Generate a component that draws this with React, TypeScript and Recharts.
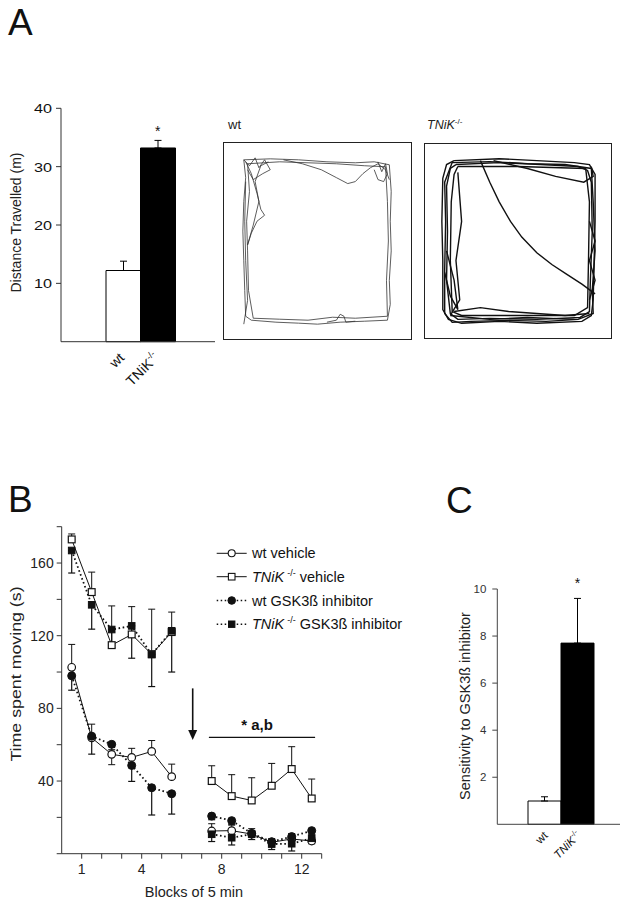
import React from 'react';
import {
  BarChart, Bar, Cell, XAxis, YAxis, ErrorBar, LineChart, Line,
  ReferenceLine, ReferenceDot,
} from 'recharts';

const FONT = '"Liberation Sans", Arial, sans-serif';
const INK = '#111';
const AXIS = '#333';

// ---------- Panel A: distance travelled ----------
const aCategories = ['wt', 'TNiK'];
const aDistance = [12.2, 33.2];
const aDistanceErr = [1.6, 1.3];
const aFills = ['#ffffff', '#000000'];
const aTicks = [10, 20, 30, 40];

// Open-field track traces (box coordinates 0-100, y measured from top)
const wtTraces: number[][][] = [
  [[11,9],[25,8.5],[40,9],[55,10],[70,10.5],[80,10],[88,11.5],[89,25],[88.5,40],[89,55],[88,70],[88.5,82],[87,90],[75,90.5],[62,91],[50,92],[40,91.5],[28,91],[15,90],[12,88],[11.5,75],[11,60],[10.5,45],[11,30],[12,18],[11,9]],
  [[13,11],[30,10],[45,10.5],[60,11],[75,12],[86,12.5],[87,30],[87.5,50],[86.5,70],[87,88],[70,89],[58,88.5],[45,90],[30,89.5],[16,89],[13.5,75],[13,55],[12.5,40],[14,25],[13,11]],
  [[32,9],[42,11],[52,14],[60,18],[66,21],[70,20],[74,16],[78,13],[82,11],[86,14],[88,19]],
  [[12,10],[15,16],[18,26],[20,34],[22,37],[18,40],[15,46],[13,52],[16,42],[19,30],[17,20],[20,12],[24,10]],
  [[11,9],[14,12],[17,8],[19,13],[22,9],[25,14],[21,16],[16,19],[13,14]],
  [[55,91],[60,90],[62,87],[64,88],[65,91],[70,90.5]],
  [[82,10],[84,15],[86,11],[87,16],[85,20],[82,19],[80,14]],
  [[12,20],[11.5,40],[12,60],[13,80],[11,92]],
];
const tnikTraces: number[][][] = [
  [[16,9],[40,8],[60,9],[80,10],[88,11],[91,16],[91,40],[90.5,60],[90,80],[89,88],[84,91],[60,92],[40,91],[20,92],[13,90],[10,85],[10,60],[9.5,40],[10,18],[12,11],[16,9]],
  [[17,11],[40,10],[62,11],[82,12],[87,14],[89,20],[89.5,45],[88.5,70],[88,86],[83,89],[60,90],[35,89.5],[18,90],[14,87],[12,70],[12.5,45],[12,22],[14,13],[17,11]],
  [[15,10],[35,9.5],[55,10.5],[75,11],[89,13],[90,30],[91,55],[89.5,75],[90,87],[82,90],[65,91],[45,90.5],[25,91],[15,91.5],[11,87],[11,65],[11.5,40],[11,20],[15,10]],
  [[18,12],[50,12],[86,13],[88,30],[87.5,60],[87,84],[80,88],[50,88],[20,88],[15,86],[14,60],[14.5,30],[16,16],[18,12]],
  [[30,9],[35,20],[40,30],[46,40],[52,48],[60,56],[68,62],[76,67],[84,72],[91,77]],
  [[37,9],[55,13],[70,17],[85,20],[90,17],[89,12]],
  [[18,15],[20,40],[17,60],[19,80],[14,88]],
  [[12,55],[16,70],[18,85],[14,78],[11,66]],
  [[16,86],[30,84],[45,86],[60,87],[75,88],[88,87]],
  [[14,88],[35,90],[55,89],[80,90]],
  [[88,40],[91,50],[88,60],[91,70],[88,80]],
];

// ---------- Panel B: time spent moving ----------
const bBlocks = [0.5, 1.5, 2.5, 3.5, 4.5, 5.5, 6.5, 7.5, 8.5, 9.5, 10.5, 11.5, 12.5];
const wtVehicle = [102.6, 63.8, 54.7, 53, 56.3, 42.4, null, 12.5, 12.7, 10.8, 6.3, 8.1, 7];
const tnikVehicle = [173, 144, 114.8, 120.7, 109.8, 122, null, 40, 31.7, 29.3, 37.4, 46.6, 30.4];
const wtGsk = [97.9, 64.7, 60.2, 48.6, 36.3, 33, null, 20.7, 18.2, 11.2, 6.6, 9.4, 12.7];
const tnikGsk = [166.9, 137, 123.4, 125.4, 109.7, 122.7, null, 10.7, 8.8, 10.8, 5.3, 5.5, 8.5];
const wtVehicleErr = [[0,12.6],[0,7.5],[5.7,0],[0,5],[0,6],[0,6.9],null,[0,4],[0,3],[0,3],[0,2],[0,3],[0,2]];
const tnikVehicleErr = [[0,3],[0,11],[0,21.6],[0,15.3],[0,24.8],[0,11],null,[0,8.4],[0,11.8],[0,12.5],[0,12.3],[0,12.3],[0,10.7]];
const wtGskErr = [[7.9,0],[9.9,0],[3,0],[8.8,0],[15,0],[11.2,0],null,[2,0],[2,0],[2,0],[2,0],[2,0],[2,0]];
const tnikGskErr = [[12.4,0],[13.4,0],[10,0],[17.8,0],[17.7,0],[22.7,0],null,[4,0],[4,0],[3,0],[3,0],[4,0],[3,0]];
const bXTicks = [1, 2, 3, 4, 5, 6, 7, 8, 9, 10, 11, 12, 13];
const bXLabels = [1, 4, 8, 12];
const bYTicks = [0, 20, 40, 60, 80, 100, 120, 140, 160, 180];
const bYLabels = [40, 80, 120, 160];
const injectionBlock = 6.55;
const arrowFrom = 91;
const arrowTo = 62.6;
const sigSpan = [7.36, 12.67];
const sigLevel = 64;

// ---------- Panel C: sensitivity ----------
const cCategories = ['wt', 'TNiK'];
const cSensitivity = [0.99, 7.7];
const cSensitivityErr = [0.18, 1.9];
const cTicks = [2, 4, 6, 8, 10];

const aData = aCategories.map((c, i) => ({ cat: c, value: aDistance[i], err: [0, aDistanceErr[i]] }));
const cData = cCategories.map((c, i) => ({ cat: c, value: cSensitivity[i], err: [0, cSensitivityErr[i]] }));
const bData = bBlocks.map((b, i) => ({
  block: b,
  wtV: wtVehicle[i], wtVErr: wtVehicleErr[i],
  tkV: tnikVehicle[i], tkVErr: tnikVehicleErr[i],
  wtG: wtGsk[i], wtGErr: wtGskErr[i],
  tkG: tnikGsk[i], tkGErr: tnikGskErr[i],
}));

const empty = (p: any) => <g key={`e-${p.index}`} />;
const OpenCircle = (p: any) => (p.cx == null || p.cy == null || p.value == null) ? empty(p) :
  <circle key={`oc-${p.index}`} cx={p.cx} cy={p.cy} r={3.8} fill="#fff" stroke={INK} strokeWidth={1.2} />;
const FilledCircle = (p: any) => (p.cx == null || p.cy == null || p.value == null) ? empty(p) :
  <circle key={`fc-${p.index}`} cx={p.cx} cy={p.cy} r={4} fill={INK} stroke={INK} strokeWidth={1} />;
const OpenSquare = (p: any) => (p.cx == null || p.cy == null || p.value == null) ? empty(p) :
  <rect key={`os-${p.index}`} x={p.cx - 3.4} y={p.cy - 3.4} width={6.8} height={6.8} fill="#fff" stroke={INK} strokeWidth={1.2} />;
const FilledSquare = (p: any) => (p.cx == null || p.cy == null || p.value == null) ? empty(p) :
  <rect key={`fs-${p.index}`} x={p.cx - 3.3} y={p.cy - 3.3} width={6.6} height={6.6} fill={INK} stroke={INK} strokeWidth={1} />;

const AYTick = (p: any) => (
  <g transform={`translate(${p.x},${p.y})`}>
    <text transform="scale(1.2,1)" textAnchor="end" dy="0.36em" fontSize={13.5} fill={INK} fontFamily={FONT}>{p.payload.value}</text>
  </g>
);
const AXTick = (p: any) => (
  <text transform={`translate(${p.x + 2},${p.y + 15}) rotate(-45)`} textAnchor="end" fontSize={14} fill={INK} fontFamily={FONT}>
    {p.payload.value === 'TNiK' ? <>TNiK<tspan fontSize={9} dy={-6}>-/-</tspan></> : p.payload.value}
  </text>
);
const CXTick = (p: any) => (
  <text transform={`translate(${p.x + 4},${p.y + 10}) rotate(-45)`} textAnchor="end" fontSize={11.5} fill={INK} fontFamily={FONT}>
    {p.payload.value === 'TNiK' ? <><tspan fontStyle="italic">TNiK</tspan><tspan fontSize={7.5} dy={-5}>-/-</tspan></> : p.payload.value}
  </text>
);

const Star = (dy: number, size: number) => (p: any) => (
  <text x={p.cx} y={p.cy - dy} textAnchor="middle" fontSize={size} fill={INK} fontFamily={FONT}>*</text>
);
const ArrowHead = (p: any) => (
  <polygon points={`${p.cx - 4.5},${p.cy - 10} ${p.cx + 4.5},${p.cy - 10} ${p.cx},${p.cy}`} fill={INK} />
);

const Track = ({ traces, width, height, stroke, sw }: any) => (
  <LineChart width={width} height={height} margin={{ top: 0, right: 0, bottom: 0, left: 0 }}>
    <XAxis type="number" dataKey="x" domain={[0, 100]} hide />
    <YAxis type="number" domain={[0, 100]} hide />
    {traces.map((t: number[][], i: number) => (
      <Line key={i} data={t.map(([x, y]) => ({ x, y: 100 - y }))} dataKey="y" type="linear"
        stroke={stroke} strokeWidth={sw} dot={false} isAnimationActive={false} />
    ))}
  </LineChart>
);

export default function App() {
  return (
    <div style={{ position: 'absolute', left: 0, top: 0, width: 631, height: 905, background: '#fff', fontFamily: FONT, overflow: 'hidden' }}>
      {/* Panel A bar chart */}
      <div style={{ position: 'absolute', left: 0, top: 90 }}>
        <BarChart width={230} height={320} data={aData} margin={{ top: 18.3, right: 15, left: 0, bottom: 8.3 }}
          barCategoryGap={0} barGap={0}>
          <XAxis dataKey="cat" tickLine={false} tickSize={0} tick={<AXTick />} height={60}
            padding={{ left: 45, right: 40 }} stroke={AXIS} interval={0} />
          <YAxis type="number" domain={[0, 40]} ticks={aTicks} width={61} tickSize={5} tickMargin={4}
            tick={<AYTick />} stroke={AXIS} />
          <Bar dataKey="value" stroke="#000" strokeWidth={1} isAnimationActive={false}>
            {aData.map((d, i) => <Cell key={i} fill={aFills[i]} />)}
            <ErrorBar dataKey="err" width={3.5} stroke="#000" strokeWidth={1} direction="y" />
          </Bar>
          <ReferenceDot x="TNiK" y={aDistance[1] + aDistanceErr[1]} r={1} shape={Star(4.5, 14)} />
        </BarChart>
      </div>

      {/* Track boxes */}
      <div style={{ position: 'absolute', left: 223, top: 142, width: 189, height: 198, border: '1.5px solid #222', boxSizing: 'border-box' }}>
        <div style={{ position: 'absolute', left: -1.5, top: -1.5 }}>
          <Track traces={wtTraces} width={189} height={198} stroke="#333" sw={0.8} />
        </div>
      </div>
      <div style={{ position: 'absolute', left: 424, top: 143, width: 188, height: 196, border: '1.5px solid #222', boxSizing: 'border-box' }}>
        <div style={{ position: 'absolute', left: -1.5, top: -1.5 }}>
          <Track traces={tnikTraces} width={188} height={196} stroke="#111" sw={1.4} />
        </div>
      </div>

      {/* Panel B line chart */}
      <div style={{ position: 'absolute', left: 0, top: 500 }}>
        <LineChart width={340} height={400} data={bData} margin={{ top: 26.7, right: 18.3, left: 0, bottom: 16.3 }}>
          <XAxis type="number" dataKey="block" domain={[0, 13]} ticks={bXTicks} interval={0} height={30}
            tickSize={5} tickMargin={5} stroke={AXIS}
            tick={{ fontSize: 14, fill: '#222', fontFamily: FONT }}
            tickFormatter={(v: number) => (bXLabels.includes(v) ? String(v) : '')} />
          <YAxis type="number" domain={[0, 180]} ticks={bYTicks} interval={0} width={61.7} allowDataOverflow
            tickSize={5} tickMargin={3} stroke={AXIS}
            tick={{ fontSize: 14, fill: '#222', fontFamily: FONT }}
            tickFormatter={(v: number) => (bYLabels.includes(v) ? String(v) : '')} />
          <ReferenceLine segment={[{ x: injectionBlock, y: arrowFrom }, { x: injectionBlock, y: arrowTo + 4 }]} stroke={INK} strokeWidth={1.6} />
          <ReferenceDot x={injectionBlock} y={arrowTo} r={1} shape={ArrowHead} />
          <ReferenceLine segment={[{ x: sigSpan[0], y: sigLevel }, { x: sigSpan[1], y: sigLevel }]} stroke={INK} strokeWidth={1.2}
            label={{
              content: (p: any) => {
                const vb = p.viewBox || {};
                return <text x={(vb.x ?? 0) + (vb.width ?? 0) / 2 - 5} y={(vb.y ?? 0) - 7} textAnchor="middle"
                  fontSize={15} fontWeight="bold" fill={INK} fontFamily={FONT}>* a,b</text>;
              },
            }} />
          <Line dataKey="tkV" type="linear" stroke={INK} strokeWidth={1} dot={OpenSquare} isAnimationActive={false} connectNulls={false}>
            <ErrorBar dataKey="tkVErr" width={3.5} stroke={INK} strokeWidth={1} direction="y" />
          </Line>
          <Line dataKey="wtV" type="linear" stroke={INK} strokeWidth={1} dot={OpenCircle} isAnimationActive={false} connectNulls={false}>
            <ErrorBar dataKey="wtVErr" width={3.5} stroke={INK} strokeWidth={1} direction="y" />
          </Line>
          <Line dataKey="tkG" type="linear" stroke={INK} strokeWidth={1.8} strokeDasharray="1.6 2.6" dot={FilledSquare} isAnimationActive={false} connectNulls={false}>
            <ErrorBar dataKey="tkGErr" width={3.5} stroke={INK} strokeWidth={1.2} direction="y" />
          </Line>
          <Line dataKey="wtG" type="linear" stroke={INK} strokeWidth={1.8} strokeDasharray="1.6 2.6" dot={FilledCircle} isAnimationActive={false} connectNulls={false}>
            <ErrorBar dataKey="wtGErr" width={3.5} stroke={INK} strokeWidth={1.2} direction="y" />
          </Line>
        </LineChart>
      </div>

      {/* Panel C bar chart */}
      <div style={{ position: 'absolute', left: 420, top: 560 }}>
        <BarChart width={211} height={320} data={cData} margin={{ top: 29, right: 11, left: 0, bottom: 5.7 }}
          barCategoryGap={0} barGap={0}>
          <XAxis dataKey="cat" tickLine={false} tickSize={0} tick={<CXTick />} height={50}
            padding={{ left: 30.7, right: 26 }} stroke="#444" interval={0} />
          <YAxis type="number" domain={[0, 10]} ticks={cTicks} width={77.3} tickSize={5} tickMargin={6}
            tick={{ fontSize: 11.5, fill: '#333', fontFamily: FONT }} stroke="#444" />
          <Bar dataKey="value" stroke="#000" strokeWidth={1} isAnimationActive={false}>
            {cData.map((d, i) => <Cell key={i} fill={aFills[i]} />)}
            <ErrorBar dataKey="err" width={3.5} stroke="#000" strokeWidth={1} direction="y" />
          </Bar>
          <ReferenceDot x="TNiK" y={cSensitivity[1] + cSensitivityErr[1]} r={1} shape={Star(10, 14)} />
        </BarChart>
      </div>

      {/* Overlay texts */}
      <svg width={631} height={905} style={{ position: 'absolute', left: 0, top: 0, pointerEvents: 'none' }} fontFamily={FONT}>
        <text x={8} y={35} fontSize={37} fill={INK}>A</text>
        <text x={8} y={512} fontSize={37} fill={INK}>B</text>
        <text x={446} y={513} fontSize={37} fill={INK}>C</text>

        <text transform="translate(16.5,222.5) rotate(-90)" textAnchor="middle" dy="0.35em" fontSize={14} fill="#222">Distance Travelled (m)</text>
        <text transform="translate(16.5,674) rotate(-90) scale(1.27,1)" textAnchor="middle" dy="0.35em" fontSize={14} fill="#222">Time spent moving (s)</text>
        <text transform="translate(465,706) rotate(-90)" textAnchor="middle" dy="0.35em" fontSize={14.5} fill="#222">Sensitivity to GSK3ß  inhibitor</text>
        <text x={194} y={896.5} textAnchor="middle" fontSize={14.5} fill="#222">Blocks of 5 min</text>

        <text x={228} y={128.5} fontSize={13} fill="#222">wt</text>
        <text x={427} y={128.5} fontSize={12.5} fill="#222"><tspan fontStyle="italic">TNiK</tspan><tspan fontSize={8} dy={-5}>-/-</tspan></text>

        {/* Legend */}
        <g stroke={INK}>
          <line x1={216.7} x2={246.7} y1={553.3} y2={553.3} strokeWidth={1} />
          <circle cx={231.7} cy={553.3} r={3.5} fill="#fff" strokeWidth={1.1} />
          <line x1={216.7} x2={246.7} y1={576.7} y2={576.7} strokeWidth={1} />
          <rect x={228.4} y={573.4} width={6.6} height={6.6} fill="#fff" strokeWidth={1.1} />
          <line x1={216.7} x2={246.7} y1={600.5} y2={600.5} strokeWidth={1.6} strokeDasharray="1.5 2.5" />
          <circle cx={231.7} cy={600.5} r={3.8} fill={INK} strokeWidth={1} />
          <line x1={216.7} x2={246.7} y1={624.2} y2={624.2} strokeWidth={1.6} strokeDasharray="1.5 2.5" />
          <rect x={228.5} y={621} width={6.4} height={6.4} fill={INK} strokeWidth={1} />
        </g>
        <g fontSize={14.5} fill="#111">
          <text x={252} y={558.3}>wt vehicle</text>
          <text x={252} y={581.7}><tspan fontStyle="italic">TNiK</tspan><tspan fontSize={9} dx={3} dy={-6}>-/-</tspan><tspan dy={6}> vehicle</tspan></text>
          <text x={252} y={605.5}>wt GSK3ß inhibitor</text>
          <text x={252} y={629.2}><tspan fontStyle="italic">TNiK</tspan><tspan fontSize={9} dx={3} dy={-6}>-/-</tspan><tspan dy={6}> GSK3ß inhibitor</tspan></text>
        </g>
      </svg>
    </div>
  );
}
